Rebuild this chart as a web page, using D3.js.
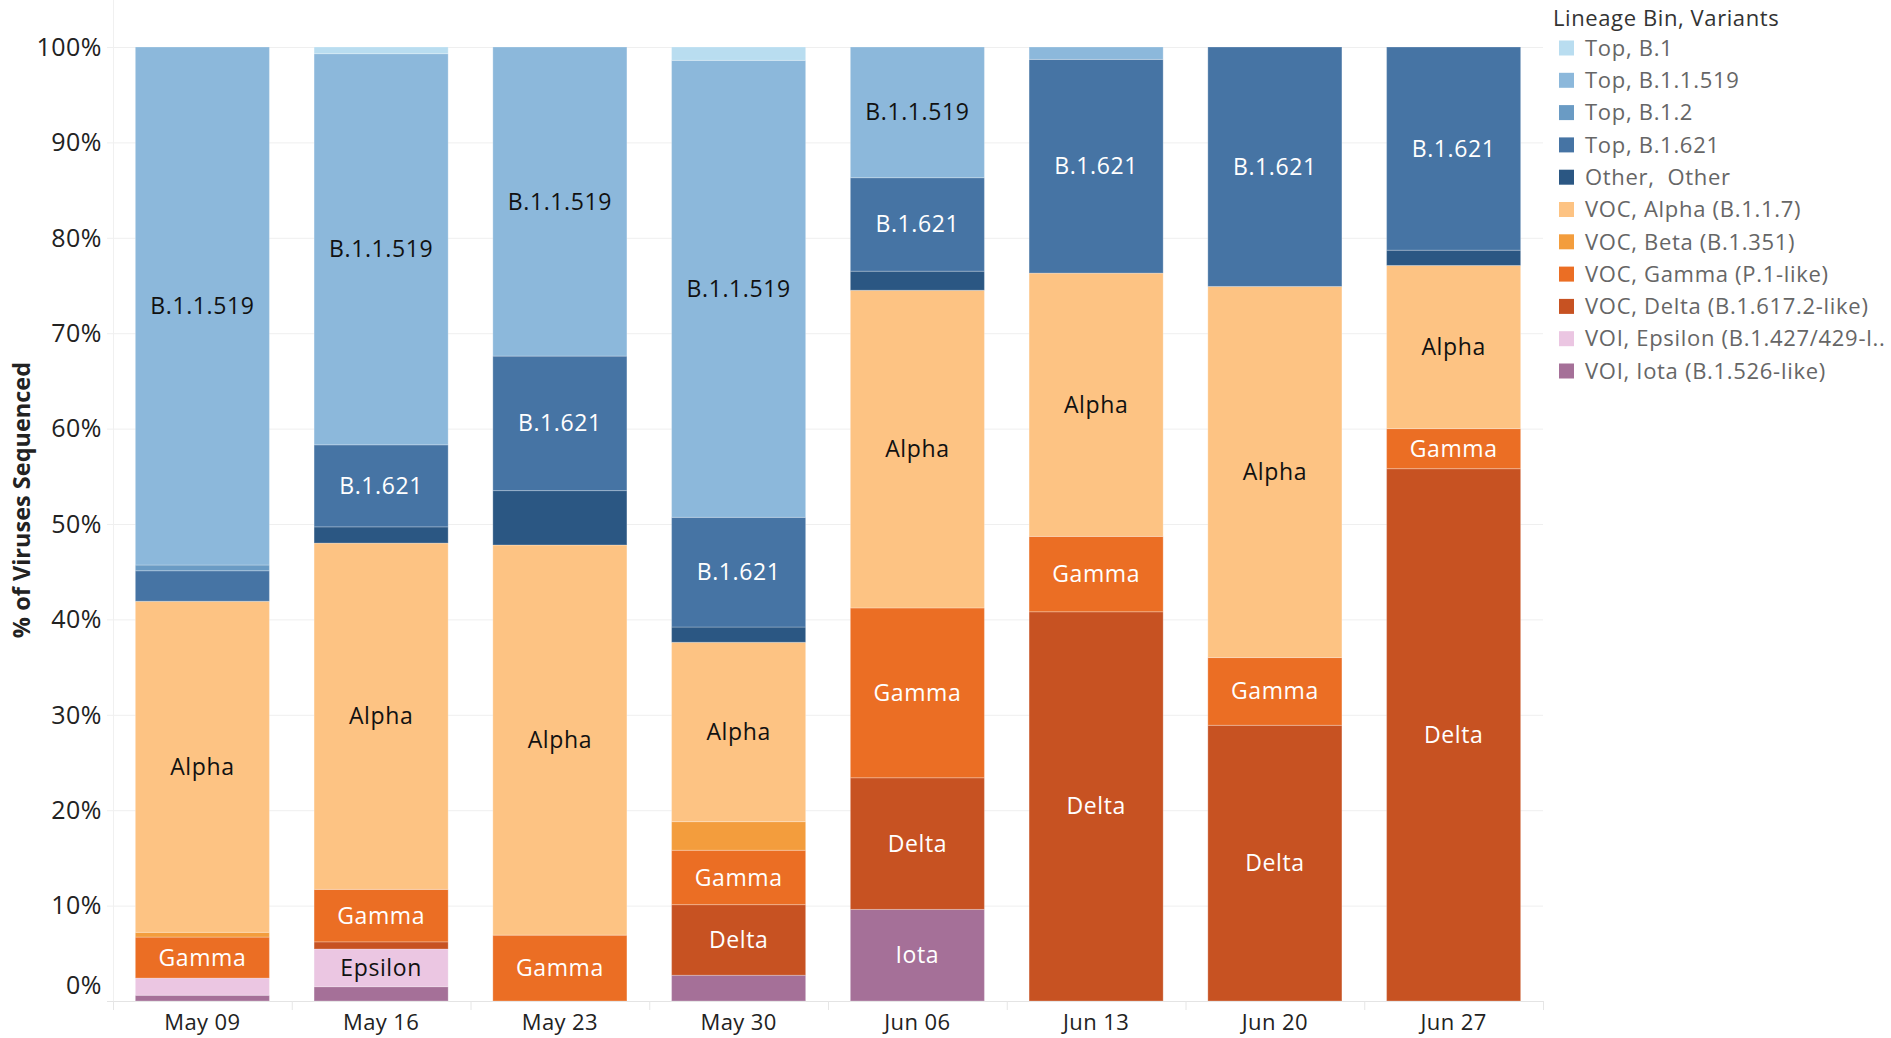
<!DOCTYPE html>
<html>
<head>
<meta charset="utf-8">
<script src="https://cdn.jsdelivr.net/npm/d3@7"></script>
<style>
  body { margin: 0; background: #fff; }
  svg { font-family: "Open Sans", Lato, sans-serif; display: block; }
</style>
</head>
<body>
<svg id="chart"></svg>
<script>
// weeks on the x axis
const weeks = ["May 09", "May 16", "May 23", "May 30", "Jun 06", "Jun 13", "Jun 20", "Jun 27"];

// legend order (top of legend = top of stack)
const lineages = [
  "Top, B.1", "Top, B.1.1.519", "Top, B.1.2", "Top, B.1.621", "Other,  Other",
  "VOC, Alpha (B.1.1.7)", "VOC, Beta (B.1.351)", "VOC, Gamma (P.1-like)",
  "VOC, Delta (B.1.617.2-like)", "VOI, Epsilon (B.1.427/429-l..", "VOI, Iota (B.1.526-like)"
];
const shortNames = ["B.1", "B.1.1.519", "B.1.2", "B.1.621", "", "Alpha", "Beta", "Gamma", "Delta", "Epsilon", "Iota"];
const colors = ["#b9ddf0", "#8cb8db", "#6a9bc4", "#4674a4", "#2b5783", "#fdc383", "#f39d3d", "#eb6e24", "#c75222", "#ebc6e2", "#a57098"];
const darkLabel = [true, true, true, false, false, true, true, false, false, true, false];

// % of viruses sequenced, per week
const b1      = [0,    0.7,  0,    1.4,  0,    0,    0,    0];
const b11519  = [54.3, 41.0, 32.4, 47.9, 13.7, 1.3,  0,    0];
const b12     = [0.6,  0,    0,    0,    0,    0,    0,    0];
const b1621   = [3.2,  8.6,  14.1, 11.5, 9.8,  22.4, 25.1, 21.3];
const other   = [0,    1.7,  5.7,  1.6,  2.0,  0,    0,    1.6];
const alpha   = [34.7, 36.3, 40.9, 18.8, 33.3, 27.6, 38.9, 17.1];
const beta    = [0.5,  0,    0,    3.0,  0,    0,    0,    0];
const gamma   = [4.3,  5.5,  6.9,  5.7,  17.8, 7.9,  7.1,  4.2];
const delta   = [0,    0.75, 0,    7.4,  13.8, 40.8, 28.9, 55.8];
const epsilon = [1.8,  3.95, 0,    0,    0,    0,    0,    0];
const iota    = [0.6,  1.5,  0,    2.7,  9.6,  0,    0,    0];

const seriesValues = [b1, b11519, b12, b1621, other, alpha, beta, gamma, delta, epsilon, iota];

const width = 1891, height = 1038;
const margin = { left: 113, top: 47, right: 348, bottom: 37 };

const svg = d3.select('#chart').attr('width', width).attr('height', height);

// table for d3.stack
const table = weeks.map((w, i) => {
  const row = { week: w };
  lineages.forEach((k, j) => { row[k] = seriesValues[j][i]; });
  return row;
});
const stackKeys = lineages.slice().reverse(); // bottom first
const stacked = d3.stack().keys(stackKeys)(table);

const x = d3.scaleBand().domain(weeks)
  .range([margin.left, width - margin.right])
  .paddingInner(0.25).paddingOuter(0.125);
const y = d3.scaleLinear().domain([0, 100]).range([height - margin.bottom, margin.top]);

const color = d3.scaleOrdinal().domain(lineages).range(colors);

// gridlines
const ticks = d3.range(0, 101, 10);
svg.append('g').selectAll('line').data(ticks).enter().append('line')
  .attr('x1', margin.left - 6).attr('x2', width - margin.right)
  .attr('y1', d => y(d) + 0.5).attr('y2', d => y(d) + 0.5)
  .attr('stroke', d => d === 0 ? '#e4e4e4' : '#efefef').attr('stroke-width', 1);

// left border line
svg.append('line')
  .attr('x1', margin.left + 0.5).attr('x2', margin.left + 0.5)
  .attr('y1', 0).attr('y2', y(0) + 8)
  .attr('stroke', '#f0f0f0');

// column separators below baseline
svg.append('g').selectAll('line').data(d3.range(weeks.length + 1)).enter().append('line')
  .attr('x1', i => margin.left + i * x.step() + 0.5)
  .attr('x2', i => margin.left + i * x.step() + 0.5)
  .attr('y1', y(0)).attr('y2', y(0) + 9)
  .attr('stroke', '#e6e6e6');

// bars
const layer = svg.append('g').selectAll('g').data(stacked).enter().append('g')
  .attr('fill', d => color(d.key));

layer.selectAll('rect').data(d => d.filter(p => p[1] - p[0] > 0)).enter().append('rect')
  .attr('x', p => x(p.data.week))
  .attr('width', x.bandwidth())
  .attr('y', p => y(p[1]))
  .attr('height', p => y(p[0]) - y(p[1]))
  .attr('stroke', 'rgba(255,255,255,0.25)')
  .attr('stroke-width', 1);

// segment labels
stacked.forEach(s => {
  const j = lineages.indexOf(s.key);
  if (!shortNames[j] || j === 4) return;
  s.forEach(p => {
    if (p[1] - p[0] < 3.5) return;
    svg.append('text')
      .attr('x', x(p.data.week) + x.bandwidth() / 2)
      .attr('y', y((p[0] + p[1]) / 2))
      .attr('dy', '0.35em')
      .attr('text-anchor', 'middle')
      .attr('font-size', '23px')
      .attr('letter-spacing', '0.6px')
      .attr('fill', darkLabel[j] ? '#111' : '#ffffff')
      .text(shortNames[j]);
  });
});

// y axis labels
svg.append('g').selectAll('text').data(ticks).enter().append('text')
  .attr('x', 102)
  .attr('y', d => d === 0 ? y(0) - 16 : y(d))
  .attr('dy', '0.35em')
  .attr('text-anchor', 'end')
  .attr('font-size', '25px')
  .attr('letter-spacing', '0.5px')
  .attr('fill', '#222')
  .text(d => d + '%');

svg.append('text')
  .attr('transform', 'translate(22,' + ((margin.top + height - margin.bottom) / 2 - 24) + ') rotate(-90)')
  .attr('text-anchor', 'middle')
  .attr('dy', '0.35em')
  .attr('font-size', '23.5px')
  .attr('font-weight', 'bold')
  .attr('fill', '#222')
  .text('% of Viruses Sequenced');

// x axis labels
svg.append('g').selectAll('text').data(weeks).enter().append('text')
  .attr('x', d => x(d) + x.bandwidth() / 2)
  .attr('y', 1022)
  .attr('dy', '0.35em')
  .attr('text-anchor', 'middle')
  .attr('font-size', '22px')
  .attr('letter-spacing', '0.4px')
  .attr('fill', '#222')
  .text(d => d);

// legend
const legend = svg.append('g').attr('transform', 'translate(1553,0)');
legend.append('text')
  .attr('x', 0).attr('y', 18).attr('dy', '0.35em')
  .attr('font-size', '22px').attr('letter-spacing', '0.6px').attr('fill', '#333')
  .text('Lineage Bin, Variants');

const item = legend.selectAll('.item').data(lineages).enter().append('g')
  .attr('class', 'item')
  .attr('transform', (d, i) => 'translate(0,' + (48 + i * 32.3) + ')');
item.append('rect')
  .attr('x', 6).attr('y', -7.5).attr('width', 15).attr('height', 15)
  .attr('fill', d => color(d));
item.append('text')
  .attr('x', 32).attr('dy', '0.35em')
  .attr('font-size', '22px').attr('letter-spacing', '0.7px').attr('fill', '#666')
  .style('white-space', 'pre')
  .text(d => d);
</script>
</body>
</html>
